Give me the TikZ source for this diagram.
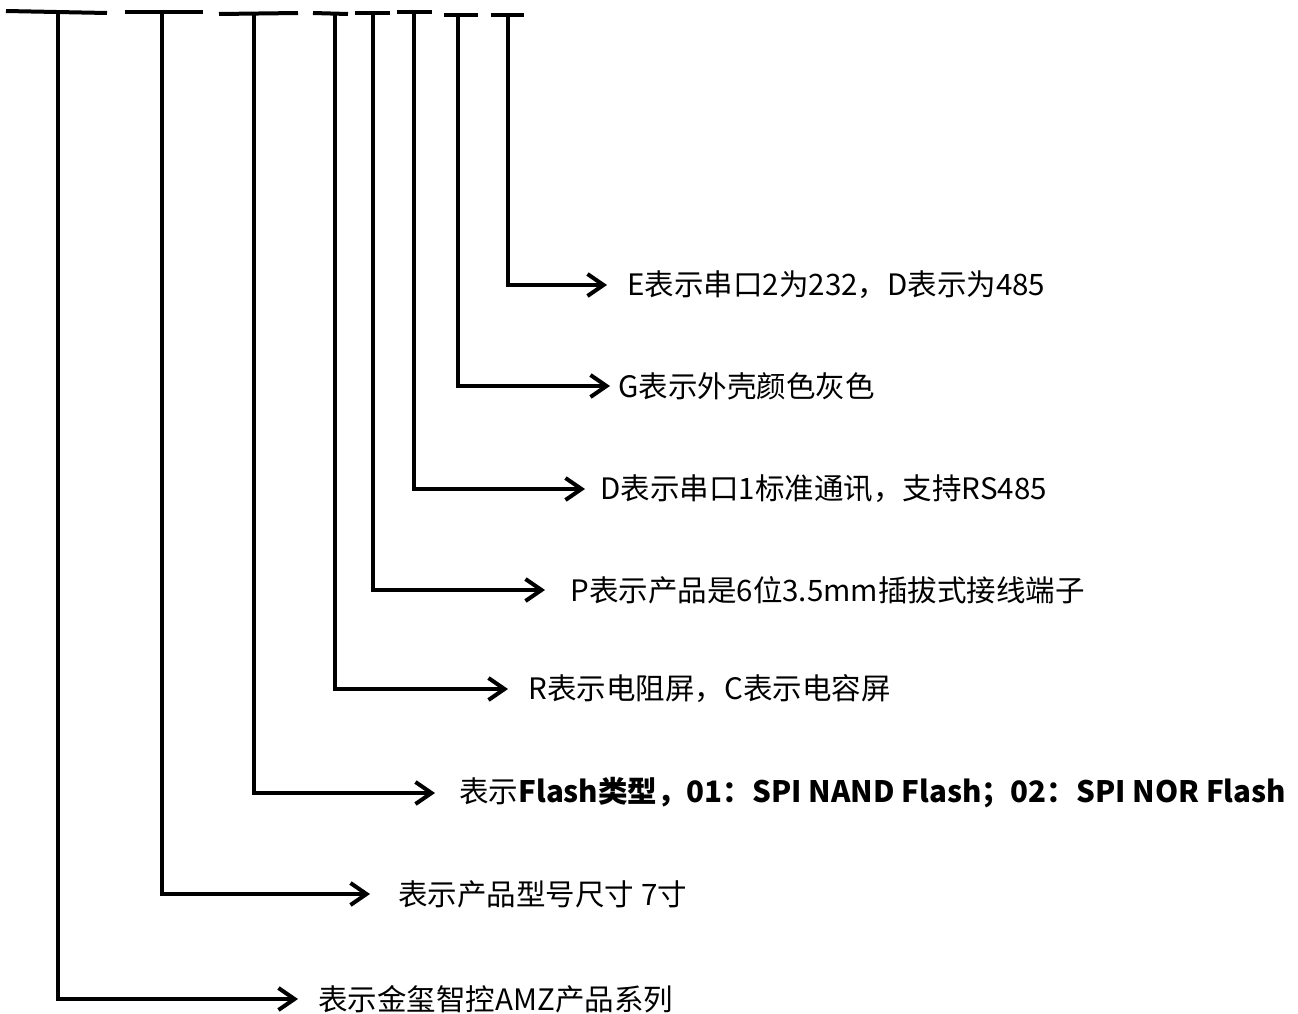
\documentclass[tikz,border=0pt]{standalone}
\usepackage{fontspec}
\setmainfont{Noto Sans CJK SC}
\usetikzlibrary{arrows.meta,positioning}

\begin{document}
\begin{tikzpicture}[x=0.02cm,y=-0.02cm,
    wire/.style={line width=0.08cm},
    lead/.style={wire,-{Straight Barb[length=0.32cm,width=0.44cm]}},
    lbl/.style={anchor=west,inner sep=0pt,font=\fontsize{16.8}{20}\selectfont}]
  \useasboundingbox (0,0) rectangle (1298,1014);
  % top bars of the code
  \draw[wire] (6,11) -- (107,13);
  \draw[line width=0.1cm] (125,12) -- (203,12);
  \draw[wire] (219,14) -- (298,13);
  \draw[wire] (313,13) -- (348,14);
  \draw[wire] (355,13) -- (390,13);
  \draw[wire] (397,12) -- (432,12);
  \draw[wire] (444,15) -- (478,15);
  \draw[wire] (491,15) -- (524,15);
  \coordinate (s1) at (58,12);
  \coordinate (s2) at (162,12);
  \coordinate (s3) at (254,13);
  \coordinate (s4) at (335,13);
  \coordinate (s5) at (373,13);
  \coordinate (s6) at (414,12);
  \coordinate (s7) at (458,15);
  \coordinate (s8) at (508,15);
  % labels
  \node[lbl] (amz) at (318,999) {表示金玺智控AMZ产品系列};
  \node[lbl] (size) at (398,894) {表示产品型号尺寸 7寸};
  \node[lbl] (flash) at (459,793) {表示\textbf{Flash类型，01：SPI NAND Flash；02：SPI NOR Flash}};
  \node[lbl] (touch) at (528,689) {R表示电阻屏，C表示电容屏};
  \node[lbl] (term) at (570,590) {P表示产品是6位3.5mm插拔式接线端子};
  \node[lbl] (com1) at (600,489) {D表示串口1标准通讯，支持RS485};
  \node[lbl] (shell) at (618,386) {G表示外壳颜色灰色};
  \node[lbl] (com2) at (627,285) {E表示串口2为232，D表示为485};
  % connectors
  \draw[lead] (s1) |- ([xshift=-0.4cm]amz.west);
  \draw[lead] (s2) |- ([xshift=-0.56cm]size.west);
  \draw[lead] (s3) |- ([xshift=-0.48cm]flash.west);
  \draw[lead] (s4) |- ([xshift=-0.4cm]touch.west);
  \draw[lead] (s5) |- ([xshift=-0.5cm]term.west);
  \draw[lead] (s6) |- ([xshift=-0.3cm]com1.west);
  \draw[lead] (s7) |- ([xshift=-0.16cm]shell.west);
  \draw[lead] (s8) |- ([xshift=-0.4cm]com2.west);
\end{tikzpicture}
\end{document}
